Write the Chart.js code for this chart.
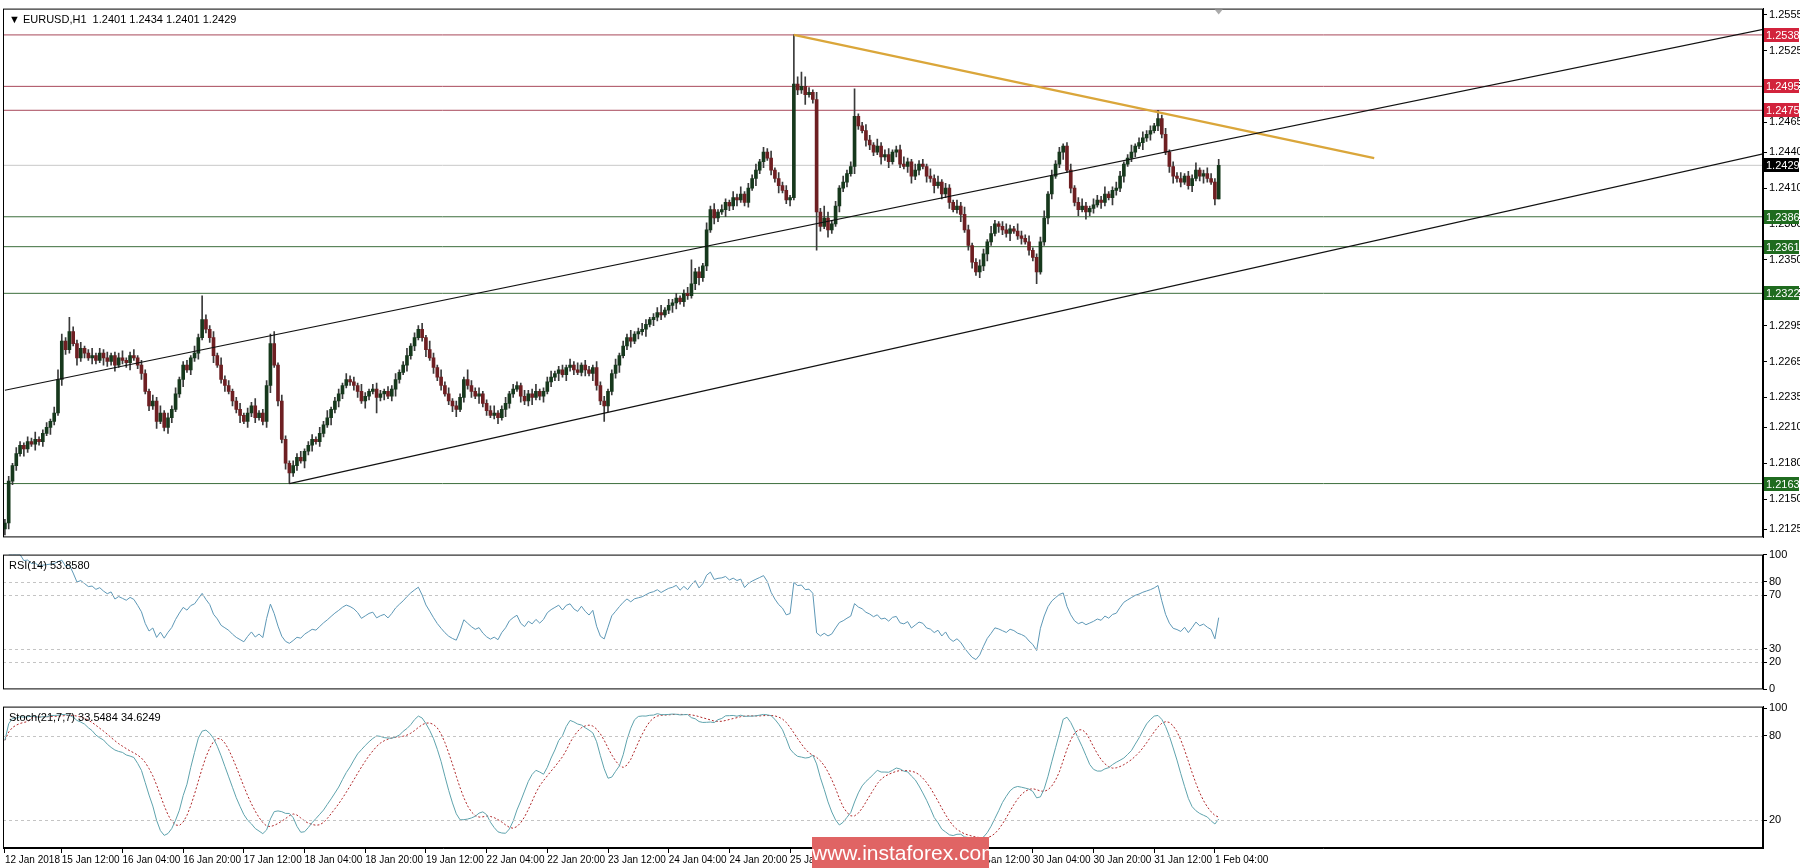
<!DOCTYPE html>
<html><head><meta charset="utf-8">
<script src="https://cdn.jsdelivr.net/npm/chart.js@4"></script>
<style>
html,body{margin:0;padding:0;background:#fff;width:1800px;height:868px;overflow:hidden;font-family:"Liberation Sans",Arial,sans-serif}
.p{position:absolute;left:0;width:1800px}
#wm{position:absolute;left:812px;top:837px;width:177px;height:31px;background:#e06464;color:#fff;font:21px "Liberation Sans Narrow","Liberation Sans",sans-serif;text-align:center;line-height:31px}
</style></head><body>
<div class="p" style="top:0;height:546px"><canvas id="c1"></canvas></div>
<div class="p" style="top:546px;height:152px"><canvas id="c2"></canvas></div>
<div class="p" style="top:698px;height:170px"><canvas id="c3"></canvas></div>
<div id="wm">www.instaforex.com</div>
<script>
// closes in pips above 1.2000
const closePips = [130,165,178,
188,195,192,198,196,200,198,205,210,215,222,
250,282,275,
290,280,268,276,272,268,270,266,272,268,265,270,262,268,266,264,270,268,262,
255,240,228,232,215,222,210,218,225,
238,250,262,258,268,
272,285,300,292,
285,270,262,250,245,
240,232,225,220,215,222,228,218,222,215,
245,280,262,232,
200,180,172,
178,185,182,190,195,200,198,205,212,218,225,
232,238,245,250,248,245,
240,232,236,240,242,235,238,240,236,
242,250,256,262,270,278,285,292,
285,275,268,260,252,245,238,232,228,225,
235,250,245,240,236,238,230,224,220,
222,218,225,230,238,242,245,236,232,238,235,240,
236,240,248,252,255,258,254,260,262,258,256,262,258,255,260,
245,232,228,240,
255,262,270,278,285,282,288,290,
292,296,300,302,306,304,308,312,314,
318,315,322,320,
330,340,335,345,
375,392,385,390,
392,398,395,402,400,405,398,410,418,
425,432,440,
435,425,418,412,408,400,402,
497,
492,495,488,490,484,
390,
378,385,375,380,
395,410,415,422,428,
470,
462,458,450,446,440,445,436,438,432,
440,442,430,428,432,420,425,430,428,
420,418,412,415,405,410,398,392,395,
388,375,362,348,340,345,
355,365,372,380,378,375,
372,376,374,370,368,365,358,352,
340,
365,385,405,420,430,
440,445,425,
410,398,392,395,390,393,
396,400,398,405,402,408,410,
420,430,435,440,445,448,452,455,458,
462,468,
455,440,428,420,
418,415,420,412,418,425,420,422,418,
415,401,
429];
const firstOpenPips = 125;
const lastOpenPips = 401;
const hiWick = [3,4,2,5,3,2,4,3,6,2,3,4,2,5,8,6,3,12,4,3,
5,2,3,6,2,4,3,5,2,3,4,6,2,3,5,2,4,3,2,5,
3,6,2,4,3,5,2,3,4,2,6,3,2,4,3,5,2,6,3,4,
2,3,5,2,4,3,6,2,3,4,8,3,2,5,3,2,4,3,5,2,
3,4,2,5,3,6,2,3,4,2,5,3,4,2,6,3,2,4,5,3,
2,4,3,5,2,3,6,2,4,3,5,2,3,4,2,6,3,5,2,4,
3,2,8,4,3,5,2,3,4,6,2,3,5,2,4,3,2,5,3,4,
6,2,3,4,5,2,3,4,2,5,3,6,2,4,3,2,5,3,4,2,
3,5,2,4,3,6,2,3,5,4,2,3,4,6,2,5,3,4,2,3,
5,8,3,4,2,6,3,5,2,4,3,2,5,3,6,2,4,3,5,2,
4,3,6,2,5,3,4,2,3,6,12,8,4,2,6,3,10,5,3,4,
2,5,3,4,6,2,3,5,4,2,6,3,4,5,2,3,4,6,3,2,
5,3,4,2,6,3,5,2,4,3,2,5,3,6,4,2,3,5,4,2,
6,3,2,4,5,3,2,6,4,3,5,2,3,4,6,2,5,3,4,2,
3,5,2,4,6,3,2,5,4,3,6,2,3,5,4,2,3,6,2,4,
5,3,4,2,6,3,5,2,4,3,5,2,4,3,6,2,3,5,4,3,5];
const loWick = [2,5,3,4,2,6,3,2,5,3,4,2,6,3,2,5,4,3,2,6,
3,4,2,5,3,2,6,4,3,5,2,3,4,6,2,3,5,2,4,3,
6,2,3,5,4,2,3,6,2,4,3,5,2,3,4,6,2,3,5,2,
4,3,6,2,5,3,4,2,3,5,6,2,4,3,5,2,3,4,2,6,
3,5,2,4,3,2,6,3,5,4,2,3,4,5,2,6,3,2,4,3,
5,2,4,6,3,2,5,3,4,2,3,6,2,5,3,4,2,3,5,6,
2,4,3,5,2,6,3,4,2,3,5,2,6,4,3,2,5,3,4,6,
2,3,5,2,4,3,6,2,5,3,4,2,3,5,2,6,4,3,2,5,
3,4,6,2,3,5,2,4,3,6,2,5,3,4,2,3,6,5,2,4,
3,2,5,6,3,4,2,5,3,2,6,4,3,5,2,3,4,2,6,3,
5,2,4,3,6,2,3,5,2,4,3,8,2,3,5,4,2,6,3,2,
5,3,4,2,6,3,2,5,4,3,2,6,3,5,2,4,3,2,5,6,
3,4,2,5,3,6,2,4,3,5,2,3,6,2,4,5,3,2,4,6,
3,2,5,4,3,6,2,3,5,2,4,3,6,2,3,5,4,2,3,6,
2,4,3,5,2,6,3,4,2,5,3,2,6,4,3,5,2,3,4,2,
6,3,5,2,4,3,2,5,6,3,4,2,3,5,2,4,6,3,2,5,2];
const hiIdx = [52,208,224,304,320,181,71,112];
const hiVal = [320,538,493,475,434,350,290,282];
const loIdx = [75,214,257,272,320,0,158,98];
const loVal = [163,358,335,330,401,120,215,222];

const resLevels = [1.2538,1.2495,1.2475];
const supLevels = [1.2386,1.2361,1.2322,1.2163];
const lastPrice = 1.2429;
const priceTicks = [1.2555,1.2525,1.2495,1.2465,1.2440,1.2410,1.2380,1.2350,1.2322,1.2295,1.2265,1.2235,1.2210,1.2180,1.2150,1.2125];
const chUpper = [[0,1.2241],[464,1.2543]];
const chLower = [[75,1.2163],[464,1.2439]];
const orangeLine = [[208,1.2538],[361,1.2435]];
const xLabelIdx = [0,15,31,47,63,79,95,111,127,143,159,175,191,207,223,239,255,271,287,303,319];
const xLabels = ["12 Jan 2018","15 Jan 12:00","16 Jan 04:00","16 Jan 20:00","17 Jan 12:00","18 Jan 04:00","18 Jan 20:00","19 Jan 12:00","22 Jan 04:00","22 Jan 20:00","23 Jan 12:00","24 Jan 04:00","24 Jan 20:00","25 Jan 12:00","26 Jan 04:00","26 Jan 20:00","29 Jan 12:00","30 Jan 04:00","30 Jan 20:00","31 Jan 12:00","1 Feb 04:00"];
const rsiTicks=[100,80,70,30,20,0], rsiDash=[80,70,30,20];
const stoTicks=[100,80,20], stoDash=[80,20];

// build OHLC
const N = closePips.length, P = v=>1.2+v/10000;
const C=[],O=[],H=[],L=[];
for(let i=0;i<N;i++){
  const c=closePips[i], o=i===0?firstOpenPips:(i===N-1?lastOpenPips:closePips[i-1]);
  let h=Math.max(o,c)+hiWick[i], l=Math.min(o,c)-loWick[i];
  const hi=hiIdx.indexOf(i); if(hi>=0) h=hiVal[hi];
  const li=loIdx.indexOf(i); if(li>=0) l=loVal[li];
  C.push(P(c));O.push(P(o));H.push(P(h));L.push(P(l));
}
// indicators from OHLC
const rsi=[null]; let ag=0,al=0;
for(let i=1;i<N;i++){const d=C[i]-C[i-1],g=Math.max(d,0),lo=Math.max(-d,0);
  if(i<=14){ag=(ag*(i-1)+g)/i;al=(al*(i-1)+lo)/i;} else {ag=(ag*13+g)/14;al=(al*13+lo)/14;}
  rsi.push(al===0?100:100-100/(1+ag/al));}
const num=[],den=[],K=[],D=[];
for(let i=0;i<N;i++){let hh=-1e9,ll=1e9;for(let j=Math.max(0,i-20);j<=i;j++){hh=Math.max(hh,H[j]);ll=Math.min(ll,L[j]);}
  num.push(C[i]-ll);den.push(hh-ll);
  let sn=0,sd=0;for(let j=Math.max(0,i-6);j<=i;j++){sn+=num[j];sd+=den[j];}
  K.push(sd?sn/sd*100:50);
  let sk=0,n=0;for(let j=Math.max(0,i-6);j<=i;j++){sk+=K[j];n++;} D.push(sk/n);}

Chart.defaults.font.family='"Liberation Sans",Arial,sans-serif';
Chart.defaults.font.size=11;
Chart.defaults.color='#000';
const XMIN=-0.5,XMAX=463.5;
const mt={id:'mt',
 afterDatasetsDraw(ch,a,o){const ctx=ch.ctx,ca=ch.chartArea,y=ch.scales.y;
  ctx.save();
  (o.dashes||[]).forEach(v=>{const py=Math.round(y.getPixelForValue(v))+0.5;ctx.strokeStyle='#c4c4c4';ctx.lineWidth=1;ctx.setLineDash([3,3]);ctx.beginPath();ctx.moveTo(ca.left,py);ctx.lineTo(ca.right,py);ctx.stroke();});
  ctx.setLineDash([]);
  ctx.strokeStyle='#000';ctx.lineWidth=1;ctx.strokeRect(ca.left+0.5,ca.top+0.5,ca.right-ca.left-1,ca.bottom-ca.top-1);
  if(o.title){ctx.fillStyle='#000';ctx.font='11px "Liberation Sans",Arial';ctx.textBaseline='middle';ctx.fillText(o.title,ca.left+6,ca.top+11);}
  (o.boxes||[]).forEach(b=>{const py=Math.round(y.getPixelForValue(b[0]));ctx.fillStyle=b[1];ctx.fillRect(ca.right+1,py-7,35,14);ctx.fillStyle='#fff';ctx.font='11px "Liberation Sans",Arial';ctx.textBaseline='middle';ctx.textAlign='left';ctx.fillText(b[0].toFixed(4),ca.right+3,py+0.5);});
  if(o.tri){const tx=ch.scales.x.getPixelForValue(o.tri);ctx.fillStyle='#aaa';ctx.beginPath();ctx.moveTo(tx-4,ca.top+1);ctx.lineTo(tx+4,ca.top+1);ctx.lineTo(tx,ca.top+6);ctx.fill();}
  ctx.restore();}};
Chart.register(mt);
function yAxis(min,max,ticks,fmt){return {position:'right',min,max,afterFit:s=>{s.width=37},
  afterBuildTicks:s=>{s.ticks=ticks.map(v=>({value:v}))},
  ticks:{callback:fmt,padding:2,font:{size:11},autoSkip:false},
  grid:{drawOnChartArea:false,tickLength:4,tickColor:'#000'},border:{color:'#000'}};}
function xHidden(){return {type:'linear',min:XMIN,max:XMAX,offset:false,display:false};}
const base={responsive:true,maintainAspectRatio:false,animation:false,devicePixelRatio:1,
  plugins:{legend:{display:false},tooltip:{enabled:false}},events:[]};
function seg(pts,col,w){return {type:'line',data:pts.map(p=>({x:p[0],y:p[1]})),borderColor:col,borderWidth:w,pointRadius:0,order:0};}
function hline(v,col){return {type:'line',data:[{x:-1,y:v},{x:465,y:v}],borderColor:col,borderWidth:1,pointRadius:0,order:5};}

const idx=[...Array(N).keys()];
new Chart(document.getElementById('c1'),{type:'bar',
 data:{datasets:[
  ...resLevels.map(v=>hline(v,'#a8485a')),
  ...supLevels.map(v=>hline(v,'#3c6e3c')),
  hline(lastPrice,'#c8c8c8'),
  {type:'bar',data:idx.map(i=>({x:i,y:[L[i],H[i]]})),backgroundColor:'#3a3a3a',barThickness:1,grouped:false,order:3},
  {type:'bar',data:idx.map(i=>({x:i,y:[O[i],Math.abs(C[i]-O[i])<0.00006?O[i]+0.00006:C[i]]})),
   backgroundColor:idx.map(i=>C[i]>=O[i]?'#16381c':'#6e1f22'),borderColor:'#000',borderWidth:0,barThickness:3,grouped:false,order:2},
  seg(chUpper,'#111',1.2),seg(chLower,'#111',1.2),seg(orangeLine,'#daa63a',2.2)]},
 options:{...base,layout:{padding:{top:3,bottom:2,left:3}},
  scales:{x:xHidden(),y:yAxis(1.2118,1.2560,priceTicks,v=>v.toFixed(4))},
  plugins:{...base.plugins,mt:{title:'\u25BC EURUSD,H1  1.2401 1.2434 1.2401 1.2429',tri:320,
   boxes:[[1.2538,'#d2233c'],[1.2495,'#d2233c'],[1.2475,'#d2233c'],[1.2429,'#000'],[1.2386,'#1f6b1f'],[1.2361,'#1f6b1f'],[1.2322,'#1f6b1f'],[1.2163,'#1f6b1f']]}}}});

new Chart(document.getElementById('c2'),{type:'line',
 data:{datasets:[{data:idx.map(i=>({x:i,y:rsi[i]})),borderColor:'#5e98b6',borderWidth:1,pointRadius:0,spanGaps:true}]},
 options:{...base,layout:{padding:{top:1,bottom:1,left:3}},
  scales:{x:xHidden(),y:yAxis(0,100,rsiTicks,v=>String(v))},
  plugins:{...base.plugins,mt:{title:'RSI(14) 53.8580',dashes:rsiDash}}}});

new Chart(document.getElementById('c3'),{type:'line',
 data:{datasets:[
  {data:idx.map(i=>({x:i,y:K[i]})),borderColor:'#5fa3ad',borderWidth:1,pointRadius:0},
  {data:idx.map(i=>({x:i,y:D[i]})),borderColor:'#b0282a',borderWidth:1,borderDash:[2,2],pointRadius:0}]},
 options:{...base,layout:{padding:{top:2,bottom:0,left:3}},
  scales:{x:{type:'linear',min:XMIN,max:XMAX,offset:false,afterFit:s=>{s.height=20},
    afterBuildTicks:s=>{s.ticks=xLabelIdx.map(v=>({value:v}))},
    ticks:{align:'start',maxRotation:0,autoSkip:false,padding:1,font:{size:10},callback:v=>xLabels[xLabelIdx.indexOf(v)]},
    grid:{drawOnChartArea:false,tickLength:5,tickColor:'#000'},border:{color:'#000'}},
   y:yAxis(0,101,stoTicks,v=>String(v))},
  plugins:{...base.plugins,mt:{title:'Stoch(21,7,7) 33.5484 34.6249',dashes:stoDash}}}});
</script></body></html>
